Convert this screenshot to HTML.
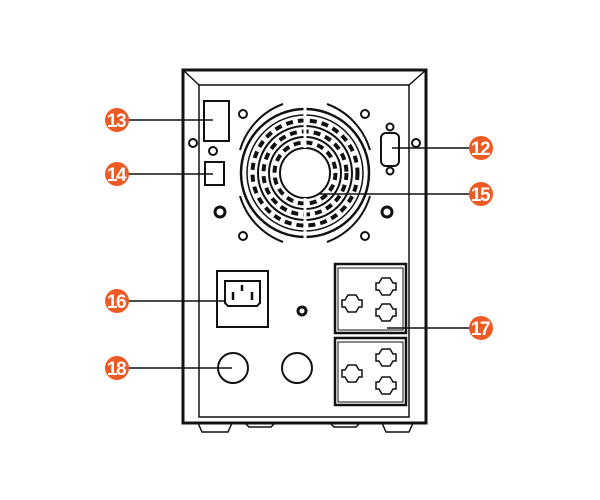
<!DOCTYPE html>
<html><head><meta charset="utf-8"><style>
html,body{margin:0;padding:0;background:#fff;width:600px;height:500px;overflow:hidden}
</style></head><body>
<svg width="600" height="500" viewBox="0 0 600 500" xmlns="http://www.w3.org/2000/svg">
<g fill="none" stroke="#111" stroke-width="2">
  <rect x="183" y="70" width="243" height="353" stroke-width="3"/>
  <rect x="199" y="85" width="210" height="332" stroke-width="1.5"/>
  <line x1="183" y1="70" x2="199" y2="85" stroke-width="1.5"/>
  <line x1="426" y1="70" x2="409" y2="85" stroke-width="1.5"/>
  <path d="M198 423 l4 9 h26 l4 -9" stroke-width="1.5"/>
  <path d="M382 423 l4 9 h23 l4 -9" stroke-width="1.5"/>
  <path d="M245 423 l4 4 h22 l4 -4" stroke-width="1.5"/>
  <path d="M330 423 l4 4 h22 l4 -4" stroke-width="1.5"/>
  <rect x="204" y="101" width="25" height="40"/>
  <circle cx="213" cy="151" r="4"/>
  <circle cx="193" cy="143" r="4"/>
  <rect x="205" y="162" width="19" height="23"/>
  <circle cx="220" cy="212" r="5" stroke-width="3"/>
  <circle cx="387" cy="212" r="5" stroke-width="3"/>
  <circle cx="243" cy="114" r="4"/><circle cx="365" cy="114" r="4"/>
  <circle cx="243" cy="236" r="4"/><circle cx="365" cy="236" r="4"/>
  <!-- fan -->
  <circle cx="305" cy="173" r="64" stroke-width="2.5"/>
  <circle cx="305" cy="173" r="58" stroke-width="1.5"/>
  <circle cx="305" cy="173" r="47" stroke-width="2"/>
  <circle cx="305" cy="173" r="36" stroke-width="2"/>
  <circle cx="305" cy="173" r="25" stroke-width="2"/>
  <g stroke-width="4" stroke-dasharray="7 5">
    <circle cx="305" cy="173" r="52.5"/>
    <circle cx="305" cy="173" r="41.5"/>
    <circle cx="305" cy="173" r="30.5"/>
  </g>
  <line x1="305" y1="106" x2="305" y2="148" stroke="#fff" stroke-width="3"/>
  <line x1="305" y1="198" x2="305" y2="240" stroke="#fff" stroke-width="3"/>
  <g stroke-width="2">
    <path d="M240 150 A70 70 0 0 1 283 104" />
    <path d="M327 104 A70 70 0 0 1 370 150" />
    <path d="M240 196 A70 70 0 0 0 283 242" />
    <path d="M327 242 A70 70 0 0 0 370 196" />
  </g>
  <rect x="381" y="133" width="18" height="33" rx="5"/>
  <circle cx="390" cy="127" r="3.5"/><circle cx="390" cy="171" r="3.5"/>
  <circle cx="416" cy="143" r="4"/>
  <rect x="217" y="271" width="51" height="56"/>
  <path d="M225 281 h35 v22 l-3 3 h-29 l-3 -3 z"/>
  <line x1="242" y1="285" x2="242" y2="291" stroke-width="2.5"/>
  <line x1="233" y1="292" x2="233" y2="300" stroke-width="2.5"/>
  <line x1="252" y1="292" x2="252" y2="300" stroke-width="2.5"/>
  <circle cx="302" cy="311" r="4" stroke-width="3"/>
  <rect x="335" y="264" width="71" height="69" stroke-width="2.5"/>
  <rect x="338" y="268" width="65" height="62" stroke-width="1"/>
  <rect x="335" y="338" width="71" height="67" stroke-width="2.5"/>
  <rect x="338" y="342" width="65" height="60" stroke-width="1"/>
  <g stroke-width="1.5">
    <path d="M342 300 h3 l3 -5 h8 l3 5 h3 v7 h-3 l-3 5 h-8 l-3 -5 h-3 z"/>
    <path d="M376 283 h3 l3 -5 h8 l3 5 h3 v7 h-3 l-3 5 h-8 l-3 -5 h-3 z"/>
    <path d="M376 309 h3 l3 -5 h8 l3 5 h3 v7 h-3 l-3 5 h-8 l-3 -5 h-3 z"/>
    <path d="M342 370 h3 l3 -5 h8 l3 5 h3 v7 h-3 l-3 5 h-8 l-3 -5 h-3 z"/>
    <path d="M376 354 h3 l3 -5 h8 l3 5 h3 v7 h-3 l-3 5 h-8 l-3 -5 h-3 z"/>
    <path d="M376 382 h3 l3 -5 h8 l3 5 h3 v7 h-3 l-3 5 h-8 l-3 -5 h-3 z"/>
  </g>
  <circle cx="233" cy="368" r="15"/>
  <circle cx="297" cy="368" r="15"/>
  <g stroke-width="1.5">
    <line x1="128" y1="120" x2="213" y2="120"/>
    <line x1="128" y1="174" x2="213" y2="174"/>
    <line x1="128" y1="301" x2="225" y2="301"/>
    <line x1="128" y1="368" x2="232" y2="368"/>
    <line x1="392" y1="148" x2="470" y2="148"/>
    <line x1="318" y1="194" x2="470" y2="194"/>
    <line x1="387" y1="328" x2="470" y2="328"/>
  </g>
</g>
<g font-family="Liberation Sans, sans-serif" font-weight="bold" font-size="19" fill="#fff" text-anchor="middle" letter-spacing="-1.5">
  <g fill="#ee5a24">
    <circle cx="117" cy="120" r="12"/><circle cx="117" cy="174" r="12"/>
    <circle cx="117" cy="301" r="12"/><circle cx="117" cy="368" r="12"/>
    <circle cx="481" cy="148" r="12"/><circle cx="481" cy="194" r="12"/>
    <circle cx="481" cy="328" r="12"/>
  </g>
  <text x="116" y="127">13</text><text x="116" y="181">14</text>
  <text x="116" y="308">16</text><text x="116" y="375">18</text>
  <text x="480" y="155">12</text><text x="480" y="201">15</text>
  <text x="480" y="335">17</text>
</g>
</svg>
</body></html>
